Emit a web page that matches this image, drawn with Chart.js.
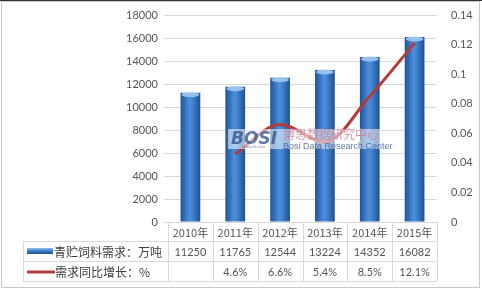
<!DOCTYPE html>
<html>
<head>
<meta charset="utf-8">
<script src="https://cdn.jsdelivr.net/npm/chart.js@4"></script>
<style>
  html, body { margin: 0; padding: 0; background: #fff; }
  #wrap { width: 482px; height: 291px; position: relative; }
</style>
</head>
<body>
<div id="wrap"><canvas id="chart" width="482" height="291"></canvas></div>
<script>
// chart data
const years = ['2010年', '2011年', '2012年', '2013年', '2014年', '2015年'];
const demand = [11250, 11765, 12544, 13224, 14352, 16082];
const growth = [null, 0.046, 0.066, 0.054, 0.085, 0.121];
const growthLabels = ['', '4.6%', '6.6%', '5.4%', '8.5%', '12.1%'];
const demandName = '青贮饲料需求：万吨';
const growthName = '需求同比增长：%';

const textColor = '#555555';
const gridColor = '#d9d9d9';
const numFont = '11px Lato, "Noto Sans", sans-serif';
const yearFont = '11px "Noto Sans CJK SC", sans-serif';
const cjkFont = '12px "Noto Sans CJK SC", sans-serif';

// horizontal gradient for the cylinder-looking bars
function barFill(ctx) {
  const chart = ctx.chart;
  const x = chart.scales.x;
  if (!x || ctx.dataIndex === undefined) return '#2f6bb3';
  const cx = x.getPixelForValue(ctx.dataIndex);
  if (!isFinite(cx)) return '#2f6bb3';
  const g = chart.ctx.createLinearGradient(cx - 10, 0, cx + 10, 0);
  g.addColorStop(0, '#1f5296');
  g.addColorStop(0.45, '#4d8fdc');
  g.addColorStop(0.6, '#4283d0');
  g.addColorStop(1, '#1e4f90');
  return g;
}

// light cap on the bar tops
const capPlugin = {
  id: 'caps',
  afterDatasetsDraw(chart) {
    const ctx = chart.ctx;
    const meta = chart.getDatasetMeta(1);
    ctx.save();
    meta.data.forEach(bar => {
      ctx.fillStyle = 'rgba(160,200,240,0.9)';
      ctx.beginPath();
      ctx.ellipse(bar.x, bar.y + 2, bar.width / 2 - 1, 2.5, 0, 0, Math.PI * 2);
      ctx.fill();
    });
    ctx.restore();
  }
};

// data table under the plot, columns follow the x scale
const tablePlugin = {
  id: 'table',
  afterDraw(chart) {
    const ctx = chart.ctx;
    const x = chart.scales.x;
    const area = chart.chartArea;
    const half = (x.getPixelForValue(1) - x.getPixelForValue(0)) / 2;
    const left = x.getPixelForValue(0) - half;
    const right = x.getPixelForValue(years.length - 1) + half;
    const top = area.bottom;
    const r1 = top + 19, r2 = top + 39, r3 = top + 59;
    const tableLeft = 23;

    ctx.save();
    ctx.strokeStyle = gridColor;
    ctx.lineWidth = 1;
    ctx.beginPath();
    // horizontal lines
    ctx.moveTo(left, top + 0.5); ctx.lineTo(right, top + 0.5);
    ctx.moveTo(tableLeft, r1 + 0.5); ctx.lineTo(right, r1 + 0.5);
    ctx.moveTo(tableLeft, r2 + 0.5); ctx.lineTo(right, r2 + 0.5);
    ctx.moveTo(tableLeft, r3 + 0.5); ctx.lineTo(right, r3 + 0.5);
    // vertical lines
    ctx.moveTo(tableLeft + 0.5, r1); ctx.lineTo(tableLeft + 0.5, r3);
    for (let i = 0; i <= years.length; i++) {
      const px = Math.round(left + i * half * 2) + 0.5;
      ctx.moveTo(px, top); ctx.lineTo(px, r3);
    }
    ctx.stroke();

    ctx.fillStyle = textColor;
    ctx.textAlign = 'center';
    ctx.textBaseline = 'middle';
    years.forEach((y, i) => {
      const cx = x.getPixelForValue(i);
      ctx.font = yearFont;
      ctx.fillText(y, cx, (top + r1) / 2 + 1);
      ctx.font = numFont;
      ctx.fillText(String(demand[i]), cx, (r1 + r2) / 2 + 1);
      ctx.fillText(growthLabels[i], cx, (r2 + r3) / 2 + 1);
    });

    // legend keys
    const g = ctx.createLinearGradient(0, (r1 + r2) / 2 - 3, 0, (r1 + r2) / 2 + 3);
    g.addColorStop(0, '#8fc0ee');
    g.addColorStop(0.5, '#3d7cc9');
    g.addColorStop(1, '#1d4f91');
    ctx.fillStyle = g;
    ctx.fillRect(27, (r1 + r2) / 2 - 3, 26, 6);
    ctx.strokeStyle = '#b23c3a';
    ctx.lineWidth = 3;
    ctx.beginPath();
    ctx.moveTo(27, (r2 + r3) / 2 + 1);
    ctx.lineTo(55, (r2 + r3) / 2 + 1);
    ctx.stroke();

    ctx.fillStyle = '#404040';
    ctx.textAlign = 'left';
    ctx.font = cjkFont;
    ctx.fillText(demandName, 54, (r1 + r2) / 2 + 1);
    ctx.fillText(growthName, 55, (r2 + r3) / 2 + 1);

    // outer frame
    ctx.strokeStyle = '#c8c8c8';
    ctx.lineWidth = 1;
    ctx.strokeRect(1.5, 1.5, 478, 286);
    ctx.strokeStyle = '#333';
    ctx.beginPath();
    ctx.moveTo(0, 0.5); ctx.lineTo(482, 0.5);
    ctx.stroke();
    ctx.restore();
  }
};

// faded watermark over the middle of the plot
const watermarkPlugin = {
  id: 'watermark',
  afterDatasetsDraw(chart) {
    const ctx = chart.ctx;
    ctx.save();
    ctx.fillStyle = 'rgba(255,255,255,0.55)';
    ctx.fillRect(228, 129, 152, 20);
    ctx.globalAlpha = 0.75;
    ctx.fillStyle = '#2c4f8a';
    ctx.font = 'bold italic 17px "DejaVu Sans", sans-serif';
    ctx.textBaseline = 'alphabetic';
    ctx.textAlign = 'left';
    ctx.fillText('BOSI', 231, 144);
    ctx.font = '3px "DejaVu Sans", sans-serif';
    ctx.fillText('BOSIDATA.COM', 242, 148);
    ctx.fillStyle = '#c8788a';
    ctx.font = '12px "Noto Sans CJK SC", sans-serif';
    ctx.fillText('博思数据研究中心', 283, 139);
    ctx.fillStyle = '#2c4f8a';
    ctx.font = '9px "Liberation Sans Narrow", "Liberation Sans", sans-serif';
    ctx.fillText('Bosi Data Research Center', 283, 149);
    ctx.restore();
  }
};

const tickFont = { family: 'Lato, "Noto Sans", sans-serif', size: 11 };

new Chart(document.getElementById('chart'), {
  data: {
    labels: years,
    datasets: [
      {
        type: 'line',
        label: growthName,
        data: growth,
        yAxisID: 'y1',
        borderColor: '#b23c3a',
        borderWidth: 3,
        pointRadius: 0,
        tension: 0.4,
        cubicInterpolationMode: 'monotone',
        order: 0
      },
      {
        type: 'bar',
        label: demandName,
        data: demand,
        yAxisID: 'y',
        backgroundColor: barFill,
        barPercentage: 0.44,
        categoryPercentage: 1,
        order: 1
      }
    ]
  },
  options: {
    responsive: false,
    animation: false,
    layout: { padding: { top: 15, bottom: 69, left: 0, right: 0 } },
    plugins: { legend: { display: false }, tooltip: { enabled: false } },
    scales: {
      x: { display: false },
      y: {
        position: 'left',
        min: 0, max: 18000,
        ticks: { stepSize: 2000, color: textColor, font: tickFont, padding: 6, callback: v => String(v) },
        grid: { color: gridColor, tickLength: 4 },
        border: { display: false },
        afterFit(scale) { scale.width = 168; }
      },
      y1: {
        position: 'right',
        min: 0, max: 0.14,
        ticks: { stepSize: 0.02, color: textColor, font: tickFont, padding: 6, callback: v => String(Math.round(v * 100) / 100) },
        grid: { display: false },
        border: { display: false },
        afterFit(scale) { scale.width = 45; }
      }
    }
  },
  plugins: [capPlugin, watermarkPlugin, tablePlugin]
});
</script>
</body>
</html>
